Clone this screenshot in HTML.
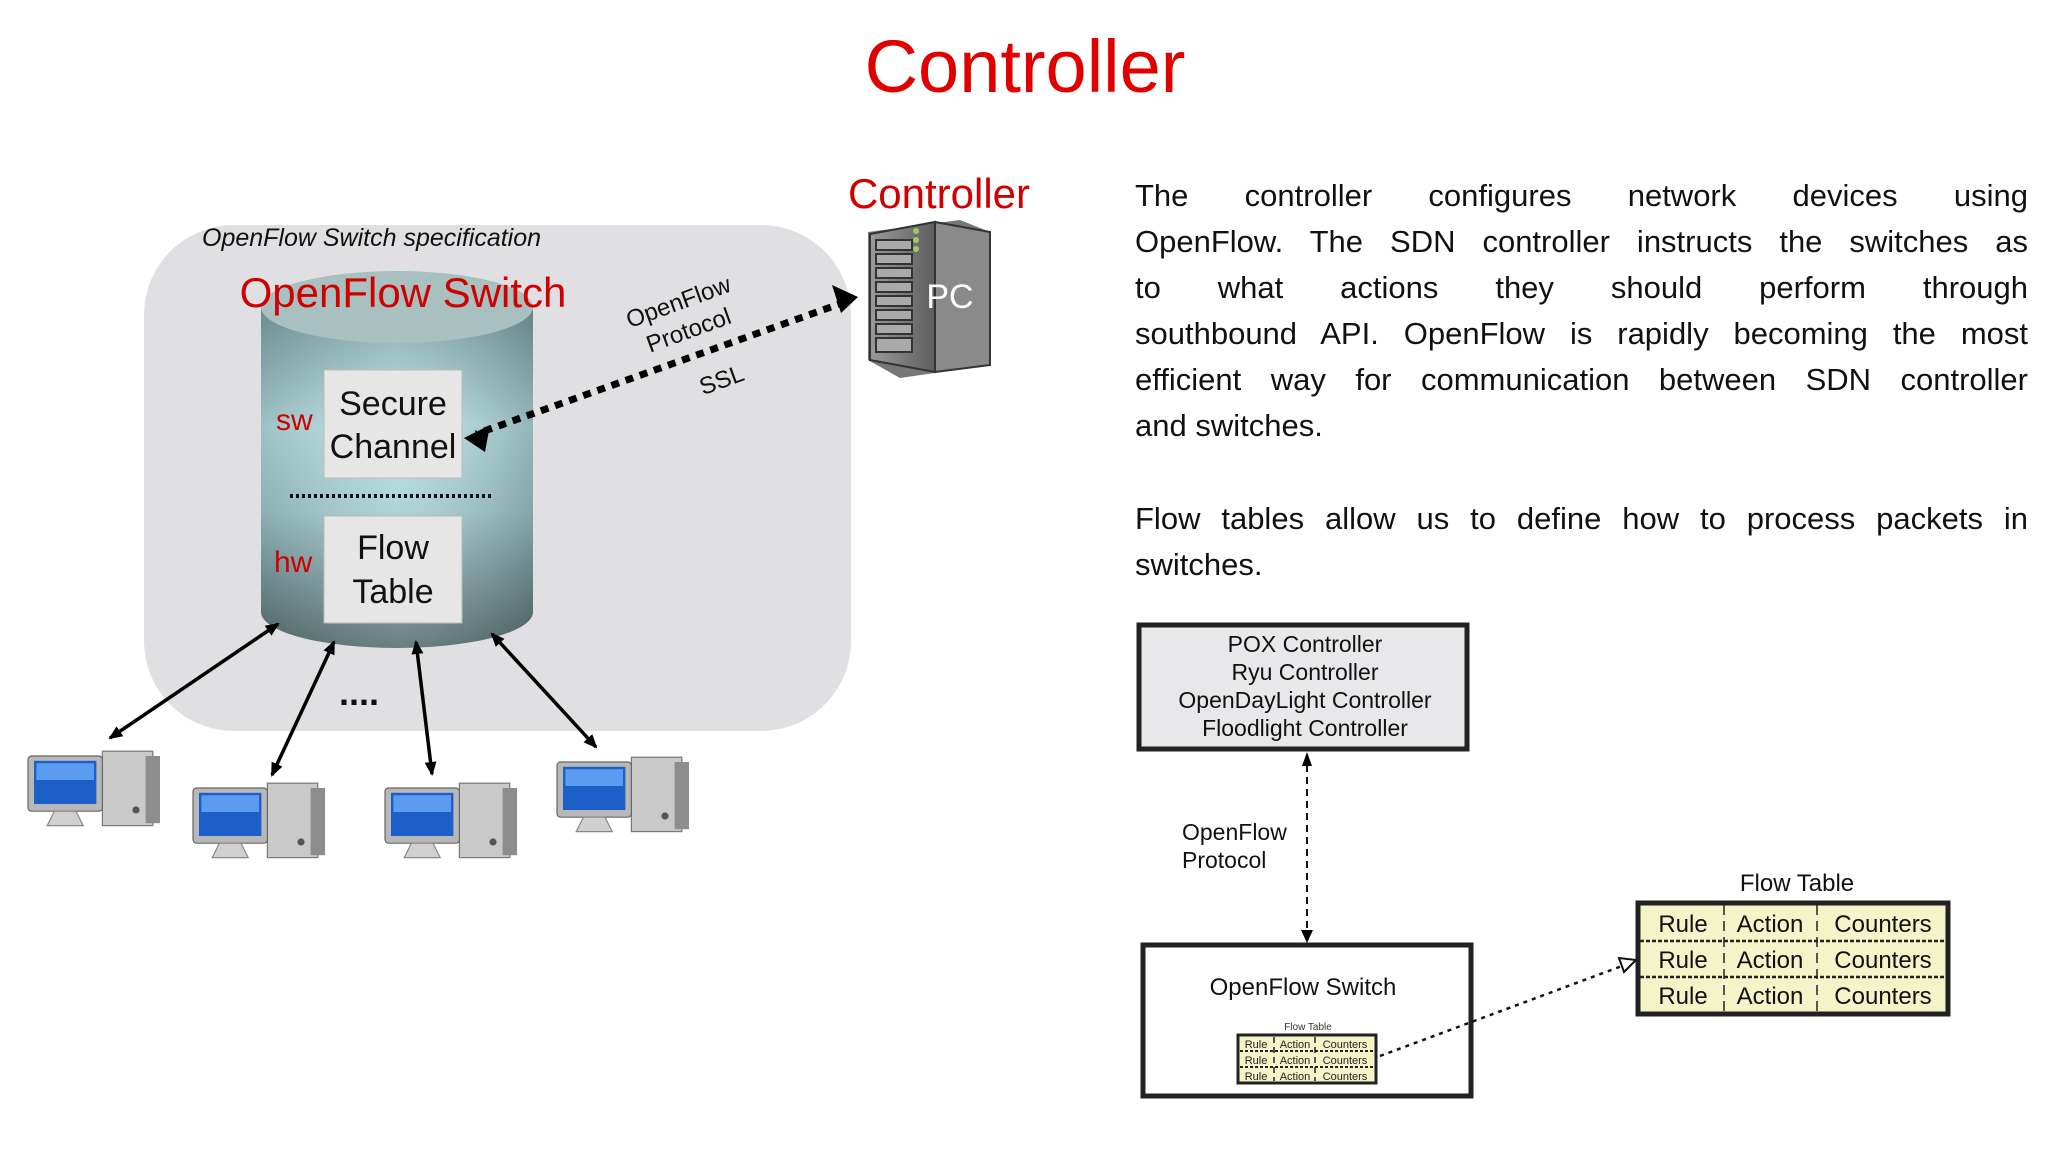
<!DOCTYPE html>
<html><head><meta charset="utf-8"><style>
html,body{margin:0;padding:0;background:#fff;}
#w{position:relative;width:2048px;height:1152px;overflow:hidden;font-family:"Liberation Sans",sans-serif;}
.p{position:absolute;left:1135px;width:893px;font-size:31px;line-height:46px;color:#111;}
.p div{white-space:nowrap;text-align:justify;text-align-last:justify;}
.p div.l{text-align-last:left;}
</style></head><body><div id="w">
<svg width="2048" height="1152" viewBox="0 0 2048 1152" style="position:absolute;left:0;top:0">
<defs>
<linearGradient id="cyl" x1="0" y1="0" x2="0" y2="1">
<stop offset="0" stop-color="#7fa3a6"/><stop offset="0.35" stop-color="#b9e3e7"/><stop offset="0.6" stop-color="#a6cfd3"/><stop offset="1" stop-color="#5a7172"/></linearGradient>
<linearGradient id="cylh" x1="0" y1="0" x2="1" y2="0">
<stop offset="0" stop-color="#000" stop-opacity="0.15"/><stop offset="0.5" stop-color="#fff" stop-opacity="0.1"/><stop offset="1" stop-color="#000" stop-opacity="0.2"/></linearGradient>
<linearGradient id="srv" x1="0" y1="0" x2="1" y2="0"><stop offset="0" stop-color="#9a9a9a"/><stop offset="1" stop-color="#5e5e5e"/></linearGradient>
<marker id="ab" markerWidth="14" markerHeight="12" refX="12" refY="6" orient="auto-start-reverse" markerUnits="userSpaceOnUse"><path d="M0,0 L14,6 L0,12 z" fill="#000"/></marker>
<g id="pc">
<rect x="62" y="6" width="42" height="62" fill="#c9c9c9" stroke="#777"/>
<rect x="98" y="10" width="12" height="56" fill="#8d8d8d"/>
<circle cx="90" cy="55" r="3" fill="#555"/>
<rect x="0" y="10" width="62" height="46" rx="3" fill="#b8b8b8" stroke="#666"/>
<rect x="5" y="14" width="52" height="36" fill="#1d5fc9"/>
<rect x="7" y="16" width="48" height="14" fill="#5b9bf0"/>
<path d="M22,56 L40,56 L46,68 L16,68 z" fill="#d0d0d0" stroke="#888"/>
</g>
</defs>
<text x="1025" y="92" text-anchor="middle" font-size="74" fill="#e00000">Controller</text>
<rect x="144" y="225" width="707" height="506" rx="90" fill="#e0e0e2"/>
<text x="202" y="246" font-size="25" font-style="italic" fill="#111">OpenFlow Switch specification</text>
<path d="M261,307 L261,612 A136,36 0 0 0 533,612 L533,307 z" fill="url(#cyl)"/>
<path d="M261,307 L261,612 A136,36 0 0 0 533,612 L533,307 z" fill="url(#cylh)"/>
<ellipse cx="397" cy="307" rx="136" ry="36" fill="#a9c0c0"/>
<text x="403" y="307" text-anchor="middle" font-size="42" fill="#d00000">OpenFlow Switch</text>
<rect x="324" y="370" width="138" height="108" fill="#e6e6e6" stroke="#bbb"/>
<text x="393" y="415" text-anchor="middle" font-size="34" fill="#111">Secure</text>
<text x="393" y="458" text-anchor="middle" font-size="34" fill="#111">Channel</text>
<text x="276" y="430" font-size="30" fill="#d00000">sw</text>
<line x1="290" y1="496" x2="494" y2="496" stroke="#111" stroke-width="4" stroke-dasharray="3,3"/>
<rect x="324" y="516" width="138" height="107" fill="#e6e6e6" stroke="#bbb"/>
<text x="393" y="559" text-anchor="middle" font-size="34" fill="#111">Flow</text>
<text x="393" y="603" text-anchor="middle" font-size="34" fill="#111">Table</text>
<text x="274" y="572" font-size="30" fill="#d00000">hw</text>
<line x1="845" y1="302" x2="476" y2="434" stroke="#000" stroke-width="7" stroke-dasharray="8,7"/>
<path d="M858,297 L832,285 L841,313 z" fill="#000"/>
<path d="M464,438 L490,425 L485,452 z" fill="#000"/>
<g transform="translate(690,334) rotate(-20)" font-size="24" fill="#111" text-anchor="middle">
<text x="0" y="-26">OpenFlow</text><text x="0" y="4">Protocol</text><text x="14" y="62">SSL</text></g>
<text x="939" y="208" text-anchor="middle" font-size="42" fill="#d00000">Controller</text>
<g>
<path d="M868,232 L960,220 L990,232 L990,365 L900,378 L868,360 z" fill="#777"/>
<path d="M870,234 L935,222 L935,372 L870,360 z" fill="url(#srv)" stroke="#333" stroke-width="2"/>
<path d="M935,222 L990,232 L990,365 L935,372 z" fill="#8a8a8a" stroke="#333" stroke-width="2"/>
<g stroke="#333" stroke-width="2" fill="#aaa">
<rect x="876" y="240" width="36" height="10"/><rect x="876" y="254" width="36" height="10"/><rect x="876" y="268" width="36" height="10"/><rect x="876" y="282" width="36" height="10"/><rect x="876" y="296" width="36" height="10"/><rect x="876" y="310" width="36" height="10"/><rect x="876" y="324" width="36" height="10"/><rect x="876" y="338" width="36" height="14"/></g>
<circle cx="916" cy="231" r="3" fill="#9c6"/><circle cx="916" cy="240" r="3" fill="#9c6"/><circle cx="916" cy="249" r="3" fill="#9c6"/>
<text x="950" y="308" text-anchor="middle" font-size="34" fill="#fff">PC</text>
</g>
<g stroke="#000" stroke-width="3.5" marker-end="url(#ab)" marker-start="url(#ab)">
<line x1="278" y1="624" x2="110" y2="738"/>
<line x1="334" y1="642" x2="272" y2="775"/>
<line x1="416" y1="642" x2="432" y2="774"/>
<line x1="492" y1="634" x2="596" y2="747"/>
</g>
<text x="359" y="705" text-anchor="middle" font-size="36" font-weight="bold" fill="#111">....</text>
<g transform="translate(28,744) scale(1.2)"><use href="#pc"/></g>
<g transform="translate(193,776) scale(1.2)"><use href="#pc"/></g>
<g transform="translate(385,776) scale(1.2)"><use href="#pc"/></g>
<g transform="translate(557,750) scale(1.2)"><use href="#pc"/></g>
<rect x="1139" y="625" width="328" height="124" fill="#e8e8ea" stroke="#222" stroke-width="5"/>
<g font-size="23" text-anchor="middle" fill="#111">
<text x="1305" y="652">POX Controller</text><text x="1305" y="680">Ryu Controller</text><text x="1305" y="708">OpenDayLight Controller</text><text x="1305" y="736">Floodlight Controller</text></g>
<line x1="1307" y1="765" x2="1307" y2="932" stroke="#111" stroke-width="2" stroke-dasharray="7,5"/>
<path d="M1307,752 L1302,766 L1312,766 z" fill="#000"/><path d="M1307,943 L1301,930 L1313,930 z" fill="#000"/>
<text x="1182" y="840" font-size="23" fill="#111">OpenFlow</text>
<text x="1182" y="868" font-size="23" fill="#111">Protocol</text>
<rect x="1143" y="945" width="328" height="151" fill="#fff" stroke="#222" stroke-width="5"/>
<text x="1303" y="995" text-anchor="middle" font-size="24" fill="#111">OpenFlow Switch</text>
<text x="1308" y="1030" text-anchor="middle" font-size="10" fill="#333">Flow Table</text>
<rect x="1238" y="1035" width="138" height="48" fill="#f5f3c8" stroke="#222" stroke-width="3"/>
<line x1="1240" y1="1051" x2="1374" y2="1051" stroke="#222" stroke-width="2" stroke-dasharray="3,2"/>
<line x1="1240" y1="1067" x2="1374" y2="1067" stroke="#222" stroke-width="2" stroke-dasharray="3,2"/>
<line x1="1274" y1="1037" x2="1274" y2="1081" stroke="#222" stroke-width="1.5" stroke-dasharray="6,4"/>
<line x1="1315" y1="1037" x2="1315" y2="1081" stroke="#222" stroke-width="1.5" stroke-dasharray="6,4"/>
<g font-size="11" fill="#222" text-anchor="middle">
<text x="1256" y="1048">Rule</text><text x="1295" y="1048">Action</text><text x="1345" y="1048">Counters</text>
<text x="1256" y="1064">Rule</text><text x="1295" y="1064">Action</text><text x="1345" y="1064">Counters</text>
<text x="1256" y="1080">Rule</text><text x="1295" y="1080">Action</text><text x="1345" y="1080">Counters</text></g>
<line x1="1380" y1="1056" x2="1622" y2="966" stroke="#111" stroke-width="2.5" stroke-dasharray="4,5"/>
<path d="M1636,960 L1619,958 L1624,972 z" fill="#fff" stroke="#111" stroke-width="2"/>
<text x="1797" y="891" text-anchor="middle" font-size="24" fill="#111">Flow Table</text>
<rect x="1638" y="903" width="310" height="111" fill="#f5f3c8" stroke="#222" stroke-width="5"/>
<line x1="1640" y1="941" x2="1946" y2="941" stroke="#222" stroke-width="2.5" stroke-dasharray="4,2"/>
<line x1="1640" y1="977" x2="1946" y2="977" stroke="#222" stroke-width="2.5" stroke-dasharray="4,2"/>
<line x1="1724" y1="905" x2="1724" y2="1012" stroke="#222" stroke-width="1.5" stroke-dasharray="10,6"/>
<line x1="1817" y1="905" x2="1817" y2="1012" stroke="#222" stroke-width="1.5" stroke-dasharray="10,6"/>
<g font-size="24" fill="#111" text-anchor="middle">
<text x="1683" y="932">Rule</text><text x="1770" y="932">Action</text><text x="1883" y="932">Counters</text>
<text x="1683" y="968">Rule</text><text x="1770" y="968">Action</text><text x="1883" y="968">Counters</text>
<text x="1683" y="1004">Rule</text><text x="1770" y="1004">Action</text><text x="1883" y="1004">Counters</text></g>
</svg>
<div class="p" style="top:173px">
<div>The controller configures network devices using</div>
<div>OpenFlow. The SDN controller instructs the switches as</div>
<div>to what actions they should perform through</div>
<div>southbound API. OpenFlow is rapidly becoming the most</div>
<div>efficient way for communication between SDN controller</div>
<div class="l">and switches.</div>
</div>
<div class="p" style="top:496px">
<div>Flow tables allow us to define how to process packets in</div>
<div class="l">switches.</div>
</div>
</div></body></html>
